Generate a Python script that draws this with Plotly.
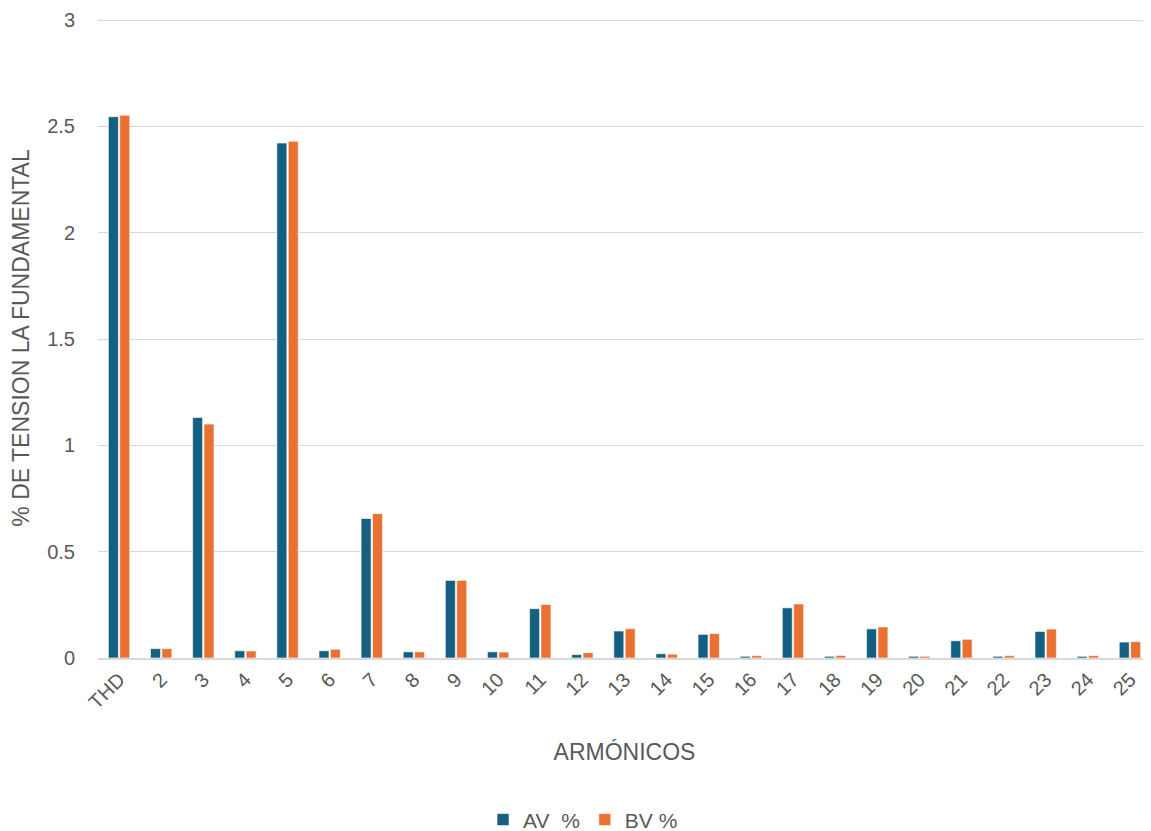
import plotly.graph_objects as go

categories = ["THD"] + [str(i) for i in range(2, 26)]
av = [2.546, 0.044, 1.131, 0.034, 2.422, 0.034, 0.656, 0.029, 0.365, 0.029,
      0.232, 0.016, 0.127, 0.020, 0.111, 0.008, 0.236, 0.008, 0.137, 0.008,
      0.081, 0.008, 0.125, 0.008, 0.075]
bv = [2.553, 0.044, 1.100, 0.033, 2.430, 0.041, 0.679, 0.029, 0.365, 0.028,
      0.252, 0.025, 0.138, 0.018, 0.115, 0.011, 0.254, 0.012, 0.146, 0.008,
      0.088, 0.011, 0.136, 0.011, 0.077]
y_ticks = [0, 0.5, 1, 1.5, 2, 2.5, 3]
y_tick_text = ["0", "0.5", "1", "1.5", "2", "2.5", "3"]

font_family = "Liberation Sans, Arial, sans-serif"
grey = "#595959"

fig = go.Figure()
fig.add_trace(go.Bar(x=categories, y=av, name="AV\u00a0 %",
                     marker=dict(color="#156082", line=dict(color="rgba(255,255,255,0.6)", width=1))))
fig.add_trace(go.Bar(x=categories, y=bv, name="BV %",
                     marker=dict(color="#E97132", line=dict(color="rgba(255,255,255,0.6)", width=1))))

fig.update_layout(
    width=1151, height=831,
    margin=dict(l=90, r=8, t=10, b=181, autoexpand=False),
    paper_bgcolor="white", plot_bgcolor="white",
    barmode="group", bargap=0.46, bargroupgap=0.12,
    font=dict(family=font_family, color=grey, size=20),
    legend=dict(orientation="h", x=0.4606, xanchor="center", y=-0.253, yanchor="middle",
                font=dict(size=21, color=grey), itemwidth=30, tracegroupgap=0),
    xaxis=dict(
        type="category", tickangle=-45, showgrid=False, automargin=False,
        showline=True, linecolor="#d9d9d9", linewidth=2,
        ticks="", tickfont=dict(size=20, color=grey),
        title=dict(text="ARMÓNICOS", font=dict(size=23, color=grey), standoff=32),
    ),
    yaxis=dict(
        range=[0, 3.01], tickvals=y_ticks, ticktext=y_tick_text, automargin=False,
        showgrid=True, gridcolor="#d9d9d9", gridwidth=1, zeroline=False,
        ticks="", ticklabelstandoff=22, tickfont=dict(size=20, color=grey),
        title=dict(text="% DE TENSION LA FUNDAMENTAL", font=dict(size=23, color=grey), standoff=18),
    ),
)

fig.write_html("out.html")
